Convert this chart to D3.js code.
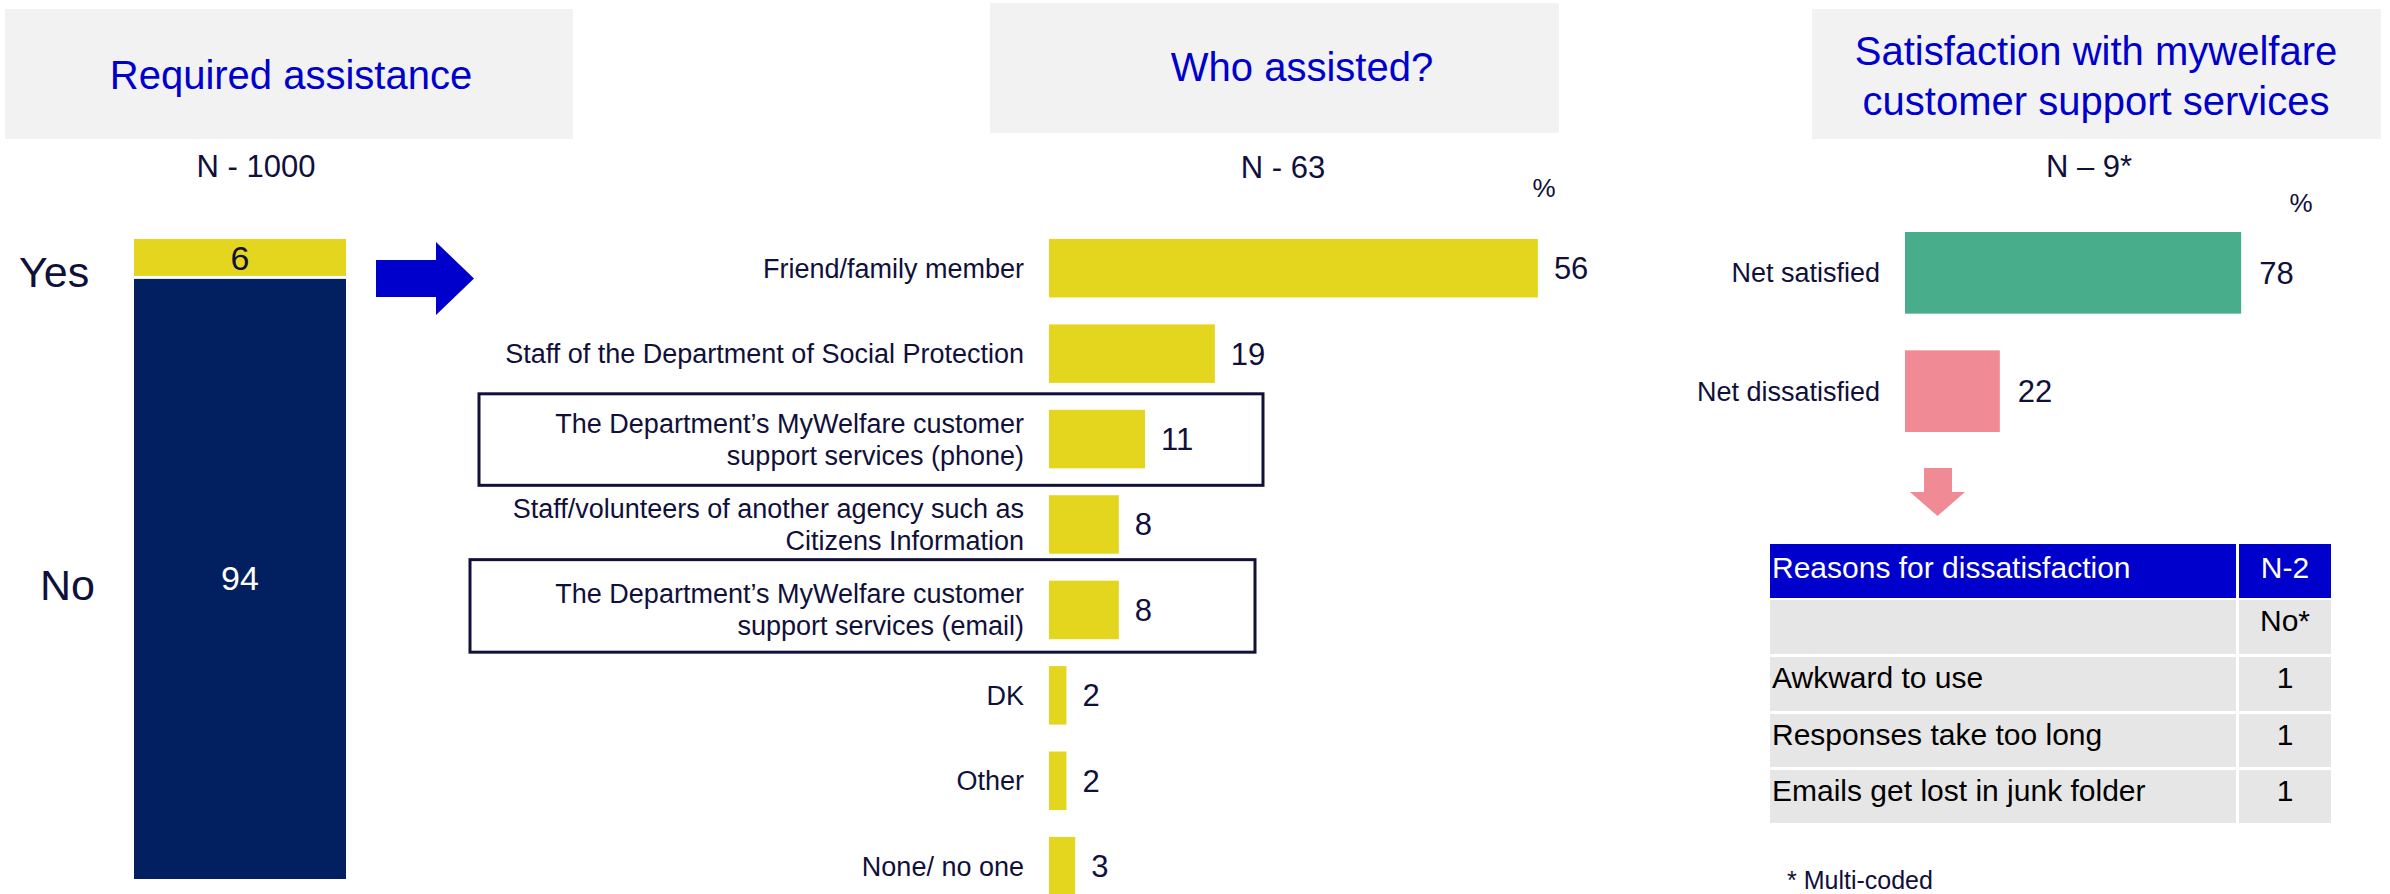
<!DOCTYPE html>
<html><head><meta charset="utf-8">
<script src="https://cdn.jsdelivr.net/npm/d3@7"></script>
<style>html,body{margin:0;padding:0;background:#fff;} svg{display:block;font-family:"Liberation Sans",Arial,sans-serif;}</style>
</head><body><svg id="chart" width="2390" height="894"></svg>
<script>
// ---------- data ----------
const reqCategories = ["Yes", "No"];
const reqValues = [6, 94];
const reqTitle = ["Required assistance"];
const reqN = "N - 1000";

const whoTitle = ["Who assisted?"];
const whoN = "N - 63";
const whoCategories = [
  "Friend/family member",
  "Staff of the Department of Social Protection",
  "The Department’s MyWelfare customer\nsupport services (phone)",
  "Staff/volunteers of another agency such as\nCitizens Information",
  "The Department’s MyWelfare customer\nsupport services (email)",
  "DK",
  "Other",
  "None/ no one"
];
const whoValues = [56, 19, 11, 8, 8, 2, 2, 3];
const whoHighlighted = [whoCategories[2], whoCategories[4]];

const satTitle = ["Satisfaction with mywelfare", "customer support services"];
const satN = "N – 9*";
const satCategories = ["Net satisfied", "Net dissatisfied"];
const satValues = [78, 22];

const reasonHeader = ["Reasons for dissatisfaction", "N-2"];
const reasonSubHeader = ["", "No*"];
const reasonCategories = ["Awkward to use", "Responses take too long", "Emails get lost in junk folder"];
const reasonValues = [1, 1, 1];
const footnote = "* Multi-coded";
const unitLabel = "%";

// ---------- styles ----------
const C = {
  grayBox: "#F2F2F2", titleBlue: "#0000CC", text: "#10103A",
  yellow: "#E4D61F", navy: "#022060", green: "#47AD8B", pink: "#F08A94",
  rowGray: "#E6E6E6"
};

const svg = d3.select("#chart");

// ---------- panel headers ----------
const panels = [
  {box: [5, 9, 573, 139], title: reqTitle, cx: 291, base: 89, n: reqN, nx: 256, ny: 177},
  {box: [990, 3, 1559, 133], title: whoTitle, cx: 1302, base: 81, n: whoN, nx: 1283, ny: 178},
  {box: [1812, 9, 2381, 139], title: satTitle, cx: 2096, base: 65, n: satN, nx: 2089, ny: 177}
];
panels.forEach(p => {
  svg.append("rect").attr("x", p.box[0]).attr("y", p.box[1])
    .attr("width", p.box[2] - p.box[0]).attr("height", p.box[3] - p.box[1]).attr("fill", C.grayBox);
  svg.selectAll(null).data(p.title).join("text")
    .attr("x", p.cx).attr("y", (d, i) => p.base + i * 50)
    .attr("text-anchor", "middle").attr("font-size", 40).attr("fill", C.titleBlue).text(d => d);
  svg.append("text").attr("x", p.nx).attr("y", p.ny).attr("text-anchor", "middle")
    .attr("font-size", 31).attr("fill", C.text).text(p.n);
});

// ---------- left: stacked bar ----------
const yReq = d3.scaleLinear().domain([0, 100]).range([239, 879]);
let acc = 0;
const reqStack = reqCategories.map((c, i) => { const s = {c, v: reqValues[i], y0: acc, y1: acc + reqValues[i], i}; acc += reqValues[i]; return s; });
const barX0 = 134, barX1 = 346;
svg.selectAll(null).data(reqStack).join("rect")
  .attr("x", barX0).attr("width", barX1 - barX0)
  .attr("y", d => yReq(d.y0) + (d.i ? 1.5 : 0))
  .attr("height", d => yReq(d.y1) - yReq(d.y0) - 1.5)
  .attr("fill", d => d.i === 0 ? C.yellow : C.navy);
svg.selectAll(null).data(reqStack).join("text")
  .attr("x", (barX0 + barX1) / 2)
  .attr("y", d => (yReq(d.y0) + yReq(d.y1)) / 2 + 12)
  .attr("text-anchor", "middle").attr("font-size", 34)
  .attr("fill", d => d.i === 0 ? C.text : "#fff").text(d => d.v);
const reqLabelOffset = [29, 22];
svg.selectAll(null).data(reqStack).join("text")
  .attr("x", d => d.i === 0 ? 19 : 40)
  .attr("y", d => (yReq(d.y0) + yReq(d.y1)) / 2 + reqLabelOffset[d.i])
  .attr("font-size", 43).attr("fill", C.text).text(d => d.c);

// blue arrow
svg.append("path").attr("d", "M376,260 L436,260 L436,242 L474,278.5 L436,315 L436,297 L376,297 Z")
  .attr("fill", C.titleBlue);

// ---------- middle: who assisted ----------
const xWho = d3.scaleLinear().domain([0, 100]).range([1049, 1049 + 873]);
const yWho = d3.scaleBand().domain(whoCategories).range([225.5, 908.9]).paddingInner(0.315).paddingOuter(0.1575);
const boxSpec = {};
boxSpec[whoHighlighted[0]] = {x0: 479, x1: 1263, top: 16, bottom: 17};
boxSpec[whoHighlighted[1]] = {x0: 470, x1: 1255, top: 21, bottom: 13};
whoHighlighted.forEach(c => {
  const b = boxSpec[c];
  svg.append("rect").attr("x", b.x0).attr("y", yWho(c) - b.top)
    .attr("width", b.x1 - b.x0).attr("height", yWho.bandwidth() + b.top + b.bottom)
    .attr("fill", "none").attr("stroke", C.text).attr("stroke-width", 3);
});
const whoData = whoCategories.map((c, i) => ({c, v: whoValues[i]}));
svg.selectAll(null).data(whoData).join("rect")
  .attr("x", xWho(0)).attr("y", d => yWho(d.c))
  .attr("width", d => xWho(d.v) - xWho(0)).attr("height", yWho.bandwidth())
  .attr("fill", C.yellow);
svg.selectAll(null).data(whoData).join("text")
  .attr("x", d => xWho(d.v) + 16).attr("y", d => yWho(d.c) + yWho.bandwidth() / 2 + 11)
  .attr("font-size", 31).attr("fill", C.text).text(d => d.v);
const whoLabels = svg.selectAll(null).data(whoData).join("text")
  .attr("text-anchor", "end").attr("font-size", 27).attr("fill", C.text);
whoLabels.each(function(d) {
  const lines = d.c.split("\n");
  const cy = yWho(d.c) + yWho.bandwidth() / 2;
  d3.select(this).selectAll("tspan").data(lines).join("tspan")
    .attr("x", 1024)
    .attr("y", (l, i) => cy + 9.5 + (i - (lines.length - 1) / 2) * 32)
    .text(l => l);
});
svg.append("text").attr("x", 1544).attr("y", 197).attr("text-anchor", "middle")
  .attr("font-size", 26).attr("fill", C.text).text(unitLabel);

// ---------- right: satisfaction ----------
const xSat = d3.scaleLinear().domain([0, 100]).range([1905, 1905 + 431]);
const ySat = d3.scaleBand().domain(satCategories).range([232, 432]).paddingInner(0.31);
const satData = satCategories.map((c, i) => ({c, v: satValues[i], i}));
svg.selectAll(null).data(satData).join("rect")
  .attr("x", xSat(0)).attr("y", d => ySat(d.c))
  .attr("width", d => xSat(d.v) - xSat(0)).attr("height", ySat.bandwidth())
  .attr("fill", d => d.i === 0 ? C.green : C.pink);
svg.selectAll(null).data(satData).join("text")
  .attr("x", d => xSat(d.v) + 18).attr("y", d => ySat(d.c) + ySat.bandwidth() / 2 + 11)
  .attr("font-size", 31).attr("fill", C.text).text(d => d.v);
svg.selectAll(null).data(satData).join("text")
  .attr("x", 1880).attr("y", d => ySat(d.c) + ySat.bandwidth() / 2 + 9.5)
  .attr("text-anchor", "end").attr("font-size", 27).attr("fill", C.text).text(d => d.c);
svg.append("text").attr("x", 2301).attr("y", 212).attr("text-anchor", "middle")
  .attr("font-size", 26).attr("fill", C.text).text(unitLabel);

// pink down arrow
svg.append("path").attr("d", "M1924,468 L1952,468 L1952,492 L1965,492 L1937.5,516 L1910,492 L1924,492 Z")
  .attr("fill", C.pink);

// ---------- table ----------
const colX = [1770, 2239], colW = [466, 92];
const tableRows = [
  {cells: reasonHeader, header: true},
  {cells: reasonSubHeader, header: false}
].concat(reasonCategories.map((c, i) => ({cells: [c, String(reasonValues[i])], header: false})));
const rowTop = [544, 600, 657, 714, 770], rowH = [54, 54, 54, 53, 53];
tableRows.forEach((r, ri) => {
  r.cells.forEach((t, ci) => {
    svg.append("rect").attr("x", colX[ci]).attr("y", rowTop[ri])
      .attr("width", colW[ci]).attr("height", rowH[ri])
      .attr("fill", r.header ? C.titleBlue : C.rowGray);
    svg.append("text")
      .attr("x", ci === 0 ? colX[0] + 2 : colX[1] + colW[1] / 2)
      .attr("y", rowTop[ri] + rowH[ri] / 2 + (r.header ? 7 : 4))
      .attr("text-anchor", ci === 0 ? "start" : "middle")
      .attr("font-size", 30).attr("fill", r.header ? "#fff" : "#000").text(t);
  });
});
svg.append("text").attr("x", 1787).attr("y", 889).attr("font-size", 25).attr("fill", C.text).text(footnote);
</script></body></html>
